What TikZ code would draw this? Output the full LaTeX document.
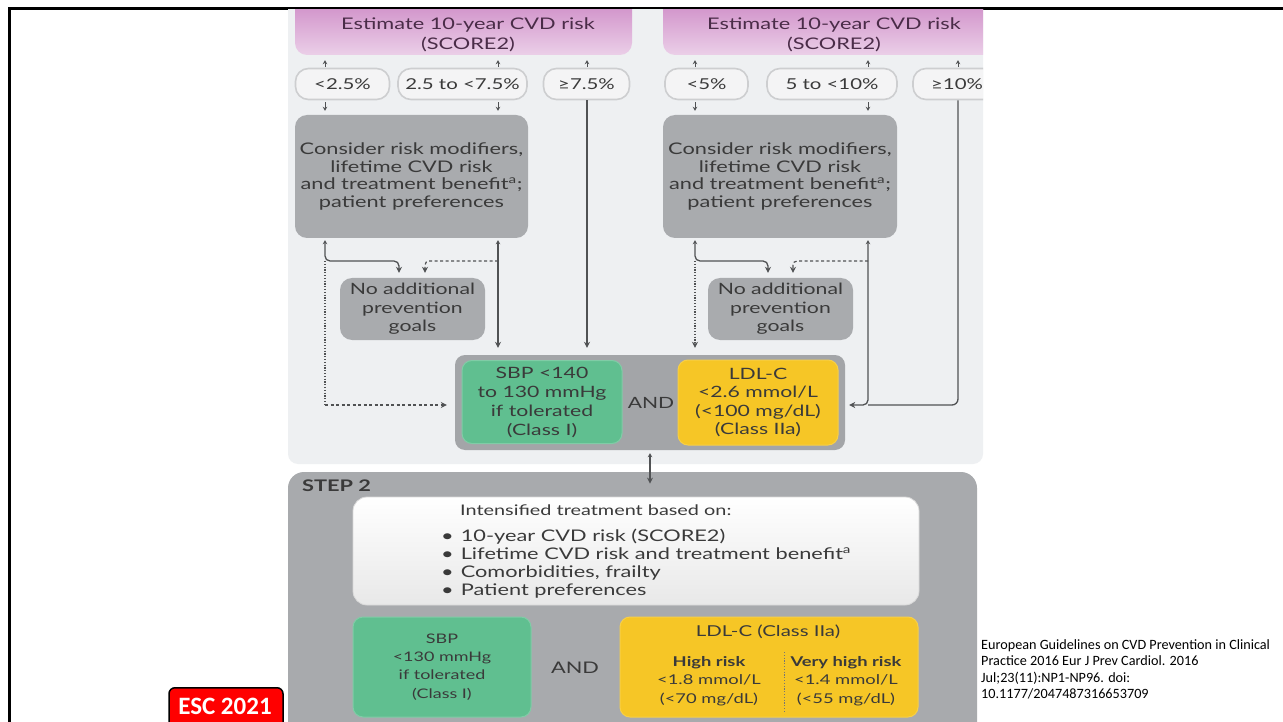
\documentclass[tikz,border=0pt]{standalone}
\usepackage{fontspec}
\setmainfont{Lato}[FakeStretch=1.36]
\newfontfamily\calib{Carlito}
\usetikzlibrary{arrows.meta,calc}
\definecolor{txtgray}{HTML}{3A3A3A}
\definecolor{pinkT}{HTML}{C77BBE}
\definecolor{pinkB}{HTML}{EBCFE8}
\definecolor{pinktxt}{HTML}{4A2C48}
\definecolor{upbg}{HTML}{EEF0F2}
\definecolor{pillfill}{HTML}{F4F4F5}
\definecolor{pillline}{HTML}{CDCED0}
\definecolor{boxgray}{HTML}{A9ABAE}
\definecolor{combgray}{HTML}{A3A5A8}
\definecolor{stepgray}{HTML}{A8AAAD}
\definecolor{greenbox}{HTML}{60BF90}
\definecolor{yellowbox}{HTML}{F6C626}
\definecolor{linegray}{HTML}{505254}
\definecolor{esc}{HTML}{FF0000}
\newcommand{\fs}[2]{\fontsize{#1}{#2}\selectfont}
\tikzset{
  txt/.style={text=txtgray, font=\fs{16}{17.5}, align=center},
  pill/.style={rounded corners=13pt, fill=pillfill, draw=pillline, line width=1.6pt, inner sep=0pt, txt, font=\fs{15}{17}},
  graybox/.style={rounded corners=12pt, fill=boxgray, inner sep=0pt, txt},
  pinkbox/.style={rounded corners=12pt, top color=pinkT, bottom color=pinkB, inner sep=0pt},
  pinktext/.style={txt, text=pinktxt, font=\fs{16}{20}},
  greenstyle/.style={rounded corners=10pt, fill=greenbox, draw=greenbox!80!white, line width=1pt, inner sep=0pt, txt},
  yellowstyle/.style={rounded corners=10pt, fill=yellowbox, draw=yellowbox!85!white, line width=1pt, inner sep=0pt, txt},
  tick/.style={draw=linegray, line width=1pt, -{Stealth[length=4pt,width=4.5pt]}},
  conn/.style={draw=linegray, line width=1.3pt, {Stealth[length=4pt,width=4.5pt]}-{Stealth[length=6pt,width=6pt]}},
  connplain/.style={draw=linegray, line width=1.3pt, -{Stealth[length=6pt,width=6pt]}},
  dashline/.style={draw=linegray, line width=1.2pt, dash pattern=on 3pt off 2.5pt, -{Stealth[length=6pt,width=6pt]}},
  dotline/.style={draw=linegray, line width=1.3pt, dash pattern=on 1.2pt off 1.6pt},
  frameline/.style={draw=black, line width=3pt},
  refstyle/.style={font=\calib\fs{14.2}{16.6}, align=left, text=black, inner sep=0pt},
}
\begin{document}
\begin{tikzpicture}[x=1pt,y=-1pt]
\useasboundingbox (0,0) rectangle (1283,722);
\fill[white] (0,0) rectangle (1283,722);
% slide frame
\draw[frameline] (9,722) -- (9,9) -- (1283,9);

% coordinates of connector columns
\coordinate (xa) at (325,0);
\coordinate (xb) at (498,0);
\coordinate (xc) at (587,0);
\coordinate (xd) at (695,0);
\coordinate (xe) at (868,0);
\coordinate (xf) at (958,0);
\coordinate (xg) at (399,0);
\coordinate (xh) at (425,0);
\coordinate (xi) at (768,0);
\coordinate (xj) at (793,0);
\coordinate (yb) at (0,261);
\coordinate (ym) at (0,405);

\begin{scope}
\clip (288,10) rectangle (983,722);
% backgrounds
\fill[upbg, rounded corners=10pt] (288,-20) rectangle (983,464);
\fill[stepgray, rounded corners=16pt] (288,472) rectangle (977,760);

% pink headers
\node[pinkbox, minimum width=337pt, minimum height=70pt] (pinkL) at (463.5,20) {};
\node[pinkbox, minimum width=345pt, minimum height=70pt] (pinkR) at (835.5,20) {};
\node[pinktext] (pinkLt) at (468,35) {Estimate 10-year CVD risk\\(SCORE2)};
\node[pinktext] (pinkRt) at (834,35) {Estimate 10-year CVD risk\\(SCORE2)};

% pills
\node[pill, minimum width=94pt, minimum height=31pt] (pill1) at (342.5,84) {<2.5\%};
\node[pill, minimum width=129pt, minimum height=31pt] (pill2) at (462.5,84) {2.5 to <7.5\%};
\node[pill, minimum width=86pt, minimum height=31pt] (pill3) at (586.5,84) {≥7.5\%};
\node[pill, minimum width=83pt, minimum height=31pt] (pill4) at (706.5,84) {<5\%};
\node[pill, minimum width=130pt, minimum height=31pt] (pill5) at (832,84) {5 to <10\%};
\node[pill, minimum width=88pt, minimum height=31pt] (pill6) at (957,84) {≥10\%};

% consider boxes
\node[graybox, minimum width=233pt, minimum height=123pt] (consL) at (411.5,176.5)
  {Consider risk modifiers,\\lifetime CVD risk\\and treatment benefit\textsuperscript{a};\\patient preferences};
\node[graybox, minimum width=234pt, minimum height=123pt] (consR) at (780,176.5)
  {Consider risk modifiers,\\lifetime CVD risk\\and treatment benefit\textsuperscript{a};\\patient preferences};

% no additional boxes
\node[graybox, font=\fs{15.6}{18.5}, minimum width=145pt, minimum height=62pt] (noaddL) at (412.5,309) {No additional\\prevention\\goals};
\node[graybox, font=\fs{15.6}{18.5}, minimum width=145pt, minimum height=62pt] (noaddR) at (780.5,309) {No additional\\prevention\\goals};

% combined step-1 targets
\node[rounded corners=10pt, fill=combgray, minimum width=390pt, minimum height=95pt, inner sep=0pt] (comb) at (650,402.5) {};
\node[greenstyle, font=\fs{15.6}{19}, minimum width=160pt, minimum height=83pt] (sbp1) at (542,402) {SBP <140\\to 130 mmHg\\if tolerated\\(Class I)};
\node[txt, font=\fs{15.5}{17}] (and1) at (651,403) {AND};
\node[yellowstyle, font=\fs{15.6}{18.5}, minimum width=160pt, minimum height=85pt] (ldl1) at (758,402.5) {LDL-C\\<2.6 mmol/L\\(<100 mg/dL)\\(Class IIa)};

% step 2
\node[txt, anchor=west, font=\bfseries\fs{16}{18}, inner sep=0pt] (step2) at (302,486) {STEP 2};
\node[rounded corners=14pt, top color=white, bottom color=black!9, draw=white!85!black, line width=0.8pt, minimum width=566pt, minimum height=108pt, inner sep=0pt] (white) at (636,551) {};
\node[txt, font=\fs{14.6}{17}, anchor=west, inner sep=0pt] (ittitle) at (460,510) {Intensified treatment based on:};
\node[txt, anchor=west, align=left, font=\fs{16}{18}, inner sep=0pt] (bullets) at (441,564)
  {•\hspace{7pt}10-year CVD risk (SCORE2)\\•\hspace{7pt}Lifetime CVD risk and treatment benefit\textsuperscript{a}\\•\hspace{7pt}Comorbidities, frailty\\•\hspace{7pt}Patient preferences};
\node[greenstyle, font=\fs{13.2}{18.3}, minimum width=178pt, minimum height=100pt] (sbp2) at (442,667) {SBP\\<130 mmHg\\if tolerated\\(Class I)};
\node[txt, font=\fs{16}{18}] (and2) at (575,668) {AND};
\node[yellowstyle, minimum width=298pt, minimum height=100pt] (ldl2) at (769,667) {};
\node[txt, font=\fs{15}{17}] (ldltitle) at (768,632) {LDL-C (Class IIa)};
\node[txt, font=\fs{13.5}{18.5}] (ldlhigh) at (709,681) {\textbf{High risk}\\<1.8 mmol/L\\(<70 mg/dL)};
\node[txt, font=\fs{13.5}{18.5}] (ldlvhigh) at (846,681) {\textbf{Very high risk}\\<1.4 mmol/L\\(<55 mg/dL)};
\coordinate (divtop) at (784,652);
\coordinate (divbot) at (784,713);
\draw[dotline, line width=1pt, draw=txtgray!70] (divtop) -- (divbot);

% ---- connectors ----
% pill -> pink ticks
\foreach \p/\x in {pill1/xa, pill2/xb, pill3/xc}
  \draw[tick, shorten >=5pt, shorten <=1pt] (\p.north -| \x) -- (pinkL.south -| \x);
\foreach \p/\x in {pill4/xd, pill5/xe, pill6/xf}
  \draw[tick, shorten >=5pt, shorten <=1pt] (\p.north -| \x) -- (pinkR.south -| \x);
% pill -> consider
\draw[tick, shorten >=4pt, shorten <=2pt] (pill1.south -| xa) -- (consL.north -| xa);
\draw[tick, shorten >=4pt, shorten <=2pt] (pill2.south -| xb) -- (consL.north -| xb);
\draw[tick, shorten >=4pt, shorten <=2pt] (pill4.south -| xd) -- (consR.north -| xd);
\draw[tick, shorten >=4pt, shorten <=2pt] (pill5.south -| xe) -- (consR.north -| xe);
% >=7.5% straight to targets
\draw[connplain, shorten >=7pt] (pill3.south -| xc) -- (comb.north -| xc);

% left branch
\draw[conn, rounded corners=5pt, shorten <=2pt, shorten >=5pt] (consL.south -| xa) -- (xa |- yb) -| (noaddL.north -| xg);
\draw[dashline, rounded corners=4pt, shorten >=5pt] (xb |- yb) -- (xh |- yb) -- (noaddL.north -| xh);
\draw[conn, shorten <=2pt, shorten >=7pt] (consL.south -| xb) -- (comb.north -| xb);
\draw[dotline] (xa |- yb) -- (xa |- ym);
\draw[dashline, shorten >=8pt] (xa |- ym) -- (comb.west |- ym);

% right branch
\draw[conn, rounded corners=5pt, shorten <=2pt, shorten >=5pt] (consR.south -| xd) -- (xd |- yb) -| (noaddR.north -| xi);
\draw[dashline, rounded corners=4pt, shorten >=5pt] (xe |- yb) -- (xj |- yb) -- (noaddR.north -| xj);
\draw[dotline, -{Stealth[length=6pt,width=6pt]}, shorten >=7pt] (xd |- yb) -- (comb.north -| xd);
\draw[conn, rounded corners=5pt, shorten <=2pt, shorten >=4pt] (consR.south -| xe) -- (xe |- ym) -- (comb.east |- ym);
\draw[draw=linegray, line width=1.3pt, rounded corners=6pt] (pill6.south -| xf) -- (xf |- ym) -- (xe |- ym);

% step1 -> step2
\draw[conn, shorten <=3pt, shorten >=13pt] (comb.south) -- (white.north -| comb.south);
\end{scope}

% reference and badge
\node[refstyle, anchor=north west] (ref) at (981,639)
  {European Guidelines on CVD Prevention in Clinical\\Practice 2016 Eur J Prev Cardiol. 2016\\Jul;23(11):NP1-NP96. doi:\\10.1177/2047487316653709};
\node[draw=black, line width=1.5pt, fill=esc, rounded corners=6pt, minimum width=114pt, minimum height=44pt, inner sep=0pt, anchor=north] (escbadge) at (226,687) {};
\node[text=white, font=\calib\bfseries\fs{25}{27}, inner sep=0pt] (esctext) at (225,706) {ESC 2021};
\end{tikzpicture}
\end{document}
